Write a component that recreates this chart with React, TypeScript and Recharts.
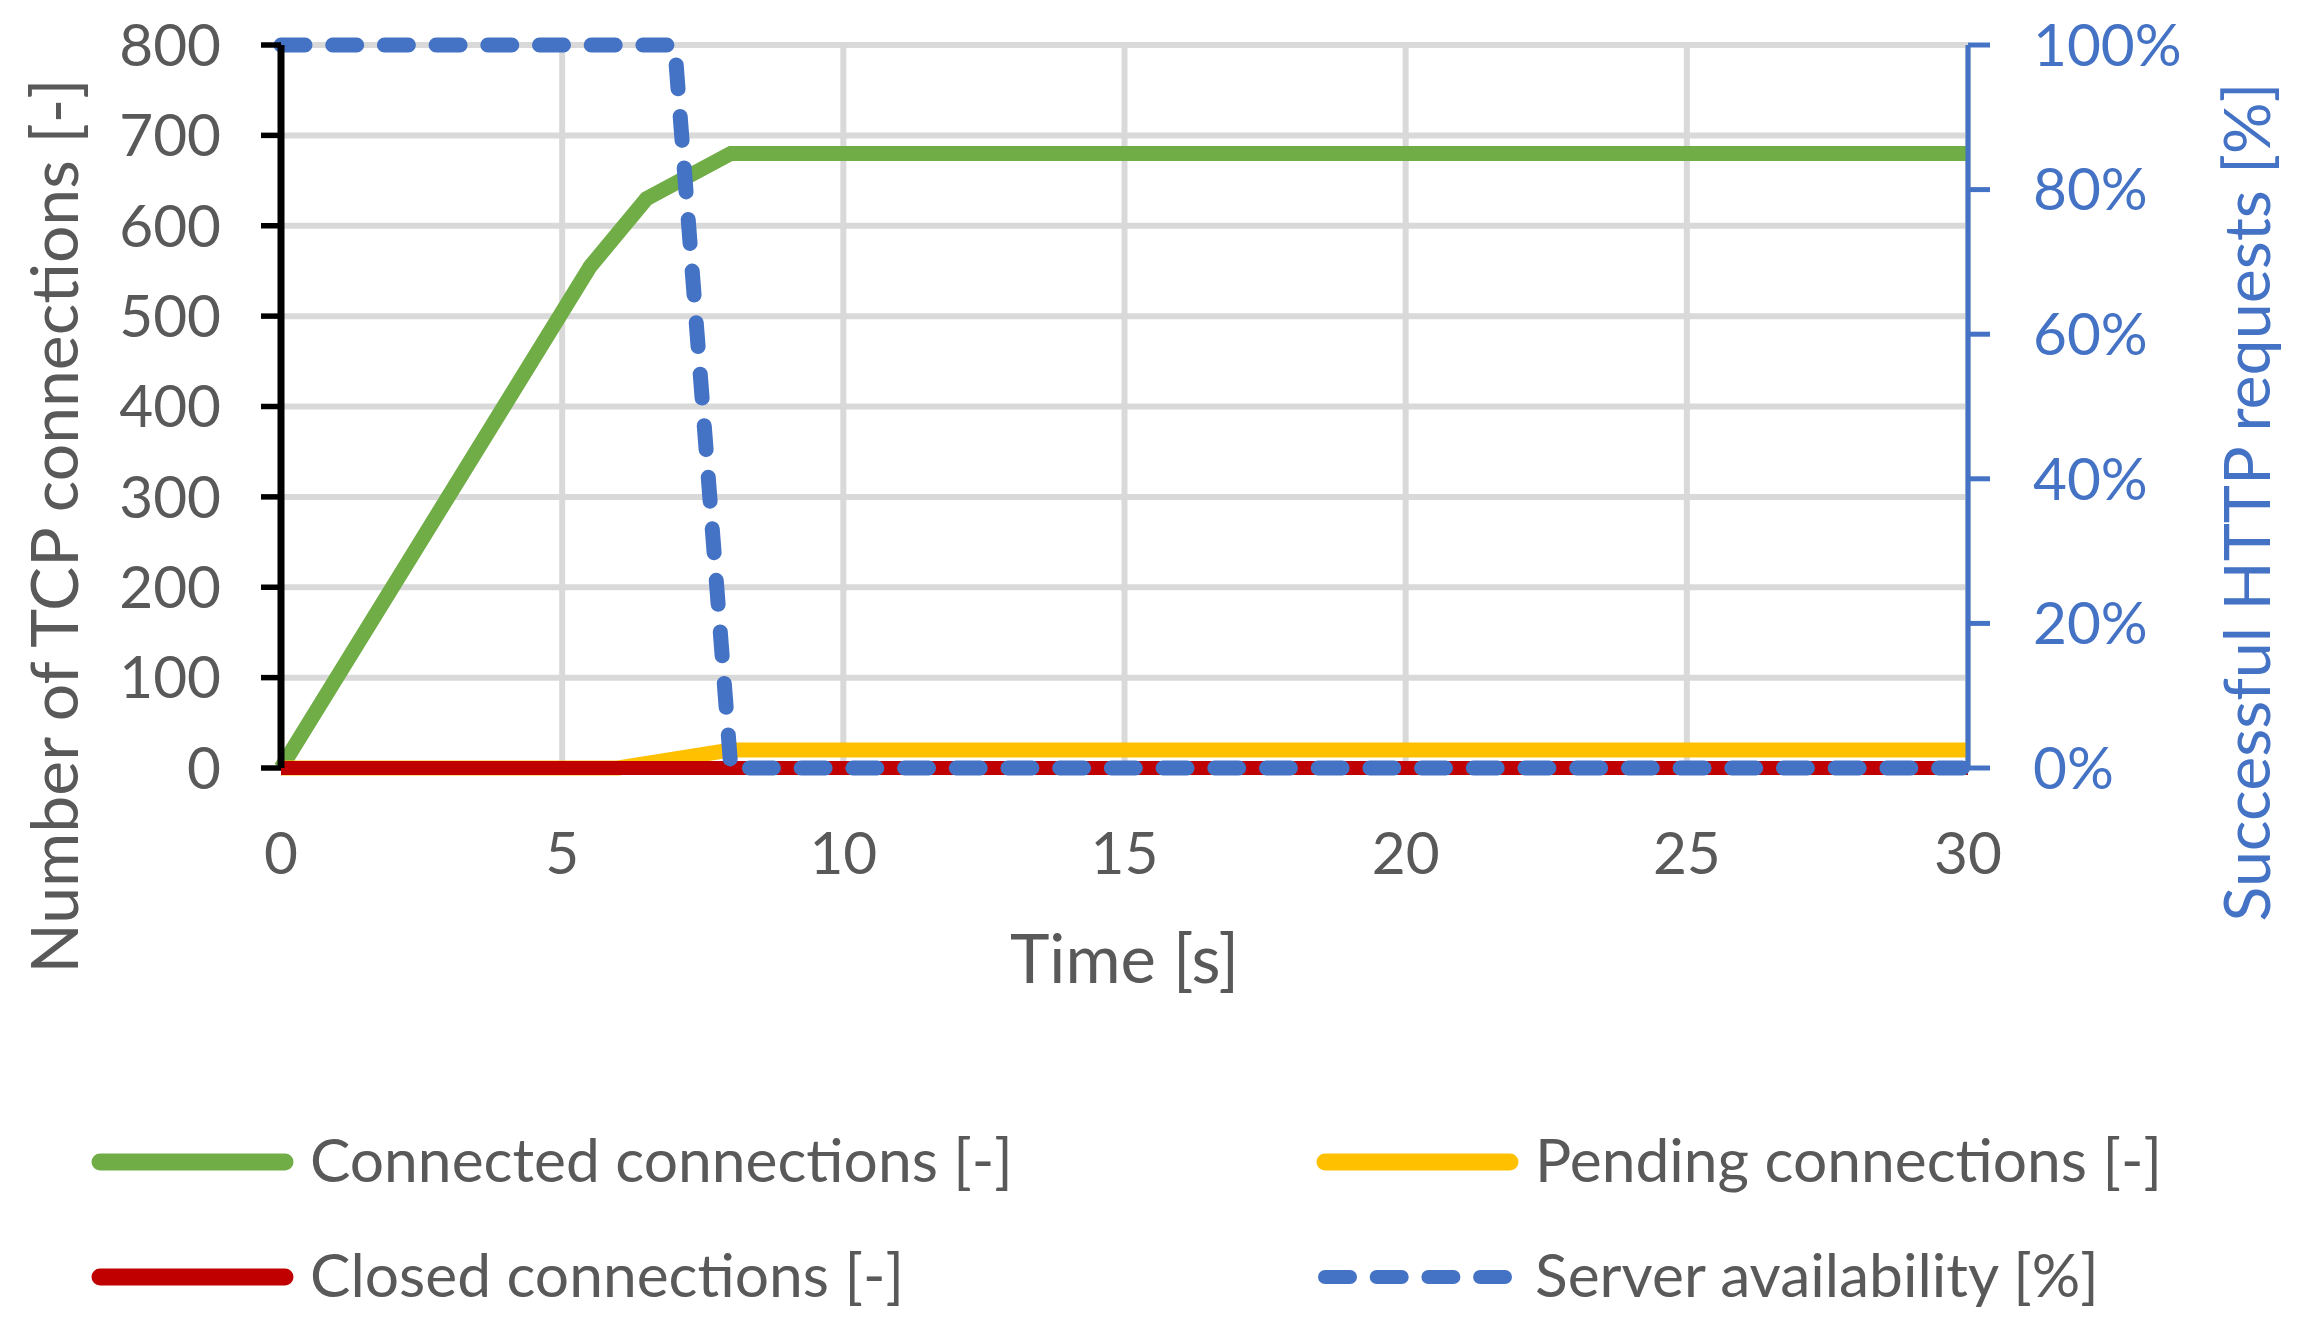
import React from "react";
import { LineChart, Line, XAxis, YAxis, CartesianGrid, Legend } from "recharts";

// axis ticks
const timeTicks = [0, 5, 10, 15, 20, 25, 30];
const countTicks = [0, 100, 200, 300, 400, 500, 600, 700, 800];
const shareTicks = [0, 0.2, 0.4, 0.6, 0.8, 1];

// series
const connectedTime = [0, 5.5, 6.5, 8, 30];
const connectedCount = [0, 555, 630, 680, 680];
const pendingTime = [0, 6, 8, 30];
const pendingCount = [0, 0, 20, 20];
const closedTime = [0, 30];
const closedCount = [0, 0];
const availabilityTime = [0, 7, 8, 30];
const availabilityShare = [1, 1, 0, 0];

const seriesNames = [
  "Connected connections [-]",
  "Pending connections [-]",
  "Closed connections [-]",
  "Server availability [%]",
];

const toRows = (xs: number[], ys: number[]) => xs.map((t, i) => ({ t, v: ys[i] }));

const W = 2309;
const H = 1325;
const FONT = "Lato, 'Open Sans', sans-serif";
const TEXT = "#595959";
const BLUE = "#4472C4";
const LEGEND_H = 230;

function LegendBlock({ payload }: { payload?: any[] }) {
  return (
    <svg width={W} height={LEGEND_H} style={{ display: "block" }}>
      {(payload ?? []).map((entry) => {
        // keep the 2x2 grid in series order (legend payload comes back sorted)
        const i = seriesNames.indexOf(entry.value);
        const col = i % 2;
        const row = Math.floor(i / 2);
        const x0 = col === 0 ? 92 : 1317;
        const cy = row === 0 ? 67 : 182;
        const dashed = !!entry.payload?.strokeDasharray;
        return (
          <g key={entry.value}>
            {dashed ? (
              <line x1={x0 + 8} x2={x0 + 188} y1={cy} y2={cy} stroke={entry.color} strokeWidth={14}
                strokeLinecap="round" strokeDasharray="25 26.7" />
            ) : (
              <line x1={x0 + 8} x2={x0 + 193} y1={cy} y2={cy} stroke={entry.color} strokeWidth={17}
                strokeLinecap="round" />
            )}
            <text x={x0 + 218} y={cy + 20} fill={TEXT} fontSize={60.5} fontFamily={FONT}>
              {entry.value}
            </text>
          </g>
        );
      })}
    </svg>
  );
}

export default function App() {
  return (
    <div style={{ position: "absolute", left: 0, top: 0, background: "#fff" }}>
      <LineChart width={W} height={H} margin={{ top: 45, right: 0, bottom: 0, left: 0 }} style={{ fontFamily: FONT }}>
        <CartesianGrid yAxisId="left" stroke="#D9D9D9" strokeWidth={6} />
        <XAxis
          dataKey="t"
          type="number"
          domain={[0, 30]}
          ticks={timeTicks}
          height={327}
          axisLine={false}
          tickLine={false}
          tickSize={0}
          tickMargin={64}
          tick={{ fill: TEXT, fontSize: 58.5, fontFamily: FONT }}
          label={{
            content: ({ viewBox }: any) => (
              <text x={viewBox.x + viewBox.width / 2} y={viewBox.y + 215} textAnchor="middle"
                fill={TEXT} fontSize={67} fontFamily={FONT}>
                Time [s]
              </text>
            ),
          }}
        />
        <YAxis
          yAxisId="left"
          orientation="left"
          width={281}
          domain={[0, 800]}
          ticks={countTicks}
          interval={0}
          axisLine={{ stroke: "#000", strokeWidth: 7 }}
          tickLine={{ stroke: "#000", strokeWidth: 5.5 }}
          tickSize={20}
          tickMargin={40}
          tick={{ fill: TEXT, fontSize: 58.5, fontFamily: FONT }}
          label={{
            content: ({ viewBox }: any) => {
              const x = viewBox.x + 78;
              const y = 526;
              return (
                <text x={x} y={y} transform={`rotate(-90 ${x} ${y})`} textAnchor="middle"
                  fill={TEXT} fontSize={66} fontFamily={FONT}>
                  Number of TCP connections [-]
                </text>
              );
            },
          }}
        />
        <YAxis
          yAxisId="right"
          orientation="right"
          width={341}
          domain={[0, 1]}
          ticks={shareTicks}
          interval={0}
          tickFormatter={(v: number) => `${Math.round(v * 100)}%`}
          axisLine={{ stroke: BLUE, strokeWidth: 5 }}
          tickLine={{ stroke: BLUE, strokeWidth: 5 }}
          tickSize={22}
          tickMargin={43}
          tick={{ fill: BLUE, fontSize: 58.5, fontFamily: FONT }}
          label={{
            content: ({ viewBox }: any) => {
              const x = viewBox.x + 302;
              const y = 502;
              return (
                <text x={x} y={y} transform={`rotate(-90 ${x} ${y})`} textAnchor="middle"
                  fill={BLUE} fontSize={64.5} fontFamily={FONT}>
                  Successful HTTP requests [%]
                </text>
              );
            },
          }}
        />
        <Legend verticalAlign="bottom" height={LEGEND_H} content={(p: any) => <LegendBlock payload={p.payload} />} />
        <Line yAxisId="left" data={toRows(connectedTime, connectedCount)} dataKey="v" name={seriesNames[0]}
          stroke="#70AD47" strokeWidth={15} dot={false} activeDot={false} isAnimationActive={false} />
        <Line yAxisId="left" data={toRows(pendingTime, pendingCount)} dataKey="v" name={seriesNames[1]}
          stroke="#FFC000" strokeWidth={15} dot={false} activeDot={false} isAnimationActive={false} />
        <Line yAxisId="left" data={toRows(closedTime, closedCount)} dataKey="v" name={seriesNames[2]}
          stroke="#C00000" strokeWidth={14} dot={false} activeDot={false} isAnimationActive={false} />
        <Line yAxisId="right" data={toRows(availabilityTime, availabilityShare)} dataKey="v" name={seriesNames[3]}
          stroke={BLUE} strokeWidth={15} strokeDasharray="24 27.7" strokeLinecap="round"
          dot={false} activeDot={false} isAnimationActive={false} />
      </LineChart>
    </div>
  );
}
